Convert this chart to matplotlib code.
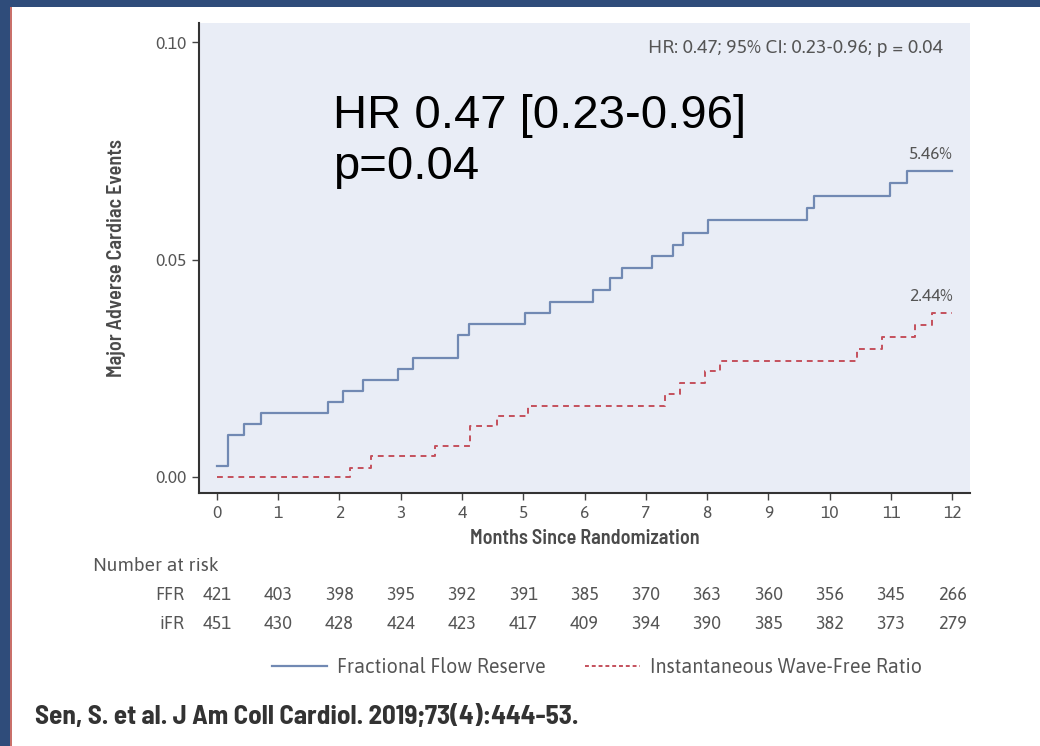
import matplotlib
matplotlib.use("Agg")
import matplotlib.pyplot as plt
from matplotlib.lines import Line2D
from matplotlib.patches import Rectangle
from matplotlib.transforms import blended_transform_factory

# Kaplan-Meier style cumulative event curves
ffr_months = [0, 0.18, 0.44, 0.72, 1.81, 2.06, 2.39, 2.95, 3.20, 3.94, 4.12, 5.03,
              5.44, 6.14, 6.42, 6.61, 7.10, 7.45, 7.60, 8.02, 9.63, 9.74, 10.99,
              11.26, 12.0]
ffr_events = [0.0024, 0.0097, 0.0122, 0.0146, 0.0173, 0.0198, 0.0223, 0.0248,
              0.0274, 0.0327, 0.0352, 0.0377, 0.0403, 0.0430, 0.0457, 0.0480,
              0.0507, 0.0534, 0.0560, 0.0591, 0.0618, 0.0645, 0.0675, 0.0704,
              0.0704]

ifr_months = [0, 2.17, 2.52, 3.56, 4.13, 4.57, 5.08, 7.31, 7.56, 7.97, 8.21,
              10.44, 10.85, 11.40, 11.67, 12.0]
ifr_events = [0.0, 0.0021, 0.0047, 0.0070, 0.0117, 0.0140, 0.0163, 0.0191,
              0.0217, 0.0244, 0.0267, 0.0294, 0.0322, 0.0350, 0.0378, 0.0378]

risk_months = list(range(13))
ffr_at_risk = [421, 403, 398, 395, 392, 391, 385, 370, 363, 360, 356, 345, 266]
ifr_at_risk = [451, 430, 428, 424, 423, 417, 409, 394, 390, 385, 382, 373, 279]

y_ticks = [0.00, 0.05, 0.10]
y_ticklabels = ["0.00", "0.05", "0.10"]

FFR_COLOR = "#7189b3"
IFR_COLOR = "#c4505c"
GRAY = "#555555"
FONT = ["Asap", "DejaVu Sans"]
BOLD_FONT = ["Barlow Semi Condensed", "DejaVu Sans"]

fig = plt.figure(figsize=(10.4, 7.46), dpi=100)
fig.patch.set_facecolor("white")

# dark blue slide frame on top and left edges
fig.patches.append(Rectangle((0, 1 - 7 / 746), 1, 7 / 746, transform=fig.transFigure,
                             facecolor="#2f4c7a", edgecolor="none", zorder=0))
fig.patches.append(Rectangle((0, 0), 10 / 1040, 1, transform=fig.transFigure,
                             facecolor="#2f4c7a", edgecolor="none", zorder=0))
fig.patches.append(Rectangle((10 / 1040, 0), 1.5 / 1040, 1 - 7 / 746,
                             transform=fig.transFigure, facecolor="#c9706a",
                             edgecolor="none", zorder=0))

ax = fig.add_axes([199 / 1040, 253 / 746, 771 / 1040, 470 / 746])
ax.set_facecolor("#e9edf6")

ax.step(ffr_months, ffr_events, where="post", color=FFR_COLOR, lw=1.6)
ax.step(ifr_months, ifr_events, where="post", color=IFR_COLOR, lw=1.4,
        linestyle=(0, (3, 2.5)))

ax.set_xlim(-0.29, 12.29)
ax.set_ylim(-0.0037, 0.1044)
ax.set_xticks(risk_months)
ax.set_yticks(y_ticks)
ax.set_yticklabels(y_ticklabels)
for lab in ax.get_xticklabels() + ax.get_yticklabels():
    lab.set_family(FONT)
    lab.set_fontsize(12.5)
    lab.set_color(GRAY)
ax.tick_params(axis="both", direction="out", length=5, width=1, color="#444444", pad=4)

for side in ("top", "right"):
    ax.spines[side].set_visible(False)
for side in ("left", "bottom"):
    ax.spines[side].set_color("#333333")
    ax.spines[side].set_linewidth(1.5)

ax.set_xlabel("Months Since Randomization", family=BOLD_FONT, fontsize=14.5,
              fontweight="semibold", color="#4a4a4a", labelpad=5)
ax.set_ylabel("Major Adverse Cardiac Events", family=BOLD_FONT, fontsize=14.5,
              fontweight="semibold", color="#4a4a4a", labelpad=21)

ax.text(0.965, 0.946, "HR: 0.47; 95% CI: 0.23-0.96; p = 0.04", transform=ax.transAxes,
        ha="right", va="center", family=FONT, fontsize=14, color=GRAY)
ax.text(12.0, ffr_events[-1] + 0.0017, "5.46%", ha="right", va="bottom",
        family=FONT, fontsize=12.5, color=GRAY)
ax.text(12.0, ifr_events[-1] + 0.0017, "2.44%", ha="right", va="bottom",
        family=FONT, fontsize=12.5, color=GRAY)

ax.text(0.174, 0.85, "HR 0.47 [0.23-0.96]\np=0.04", transform=ax.transAxes,
        ha="left", va="top", family="Liberation Sans", fontsize=34,
        color="black", linespacing=1.22)

# number at risk table
tr = blended_transform_factory(ax.transData, fig.transFigure)
fig.text(93 / 1040, 1 - 566 / 746, "Number at risk", ha="left", va="center",
         family=FONT, fontsize=13.8, color=GRAY)
for label, counts, ypix in (("FFR", ffr_at_risk, 595), ("iFR", ifr_at_risk, 624)):
    fig.text(184 / 1040, 1 - ypix / 746, label, ha="right", va="center",
             family=FONT, fontsize=13, color=GRAY)
    for m, n in zip(risk_months, counts):
        ax.text(m, 1 - ypix / 746, str(n), transform=tr, ha="center", va="center",
                family=FONT, fontsize=13, color=GRAY, clip_on=False)

handles = [Line2D([], [], color=FFR_COLOR, lw=1.6),
           Line2D([], [], color=IFR_COLOR, lw=1.4, linestyle=(0, (2, 1.5)))]
leg = fig.legend(handles, ["Fractional Flow Reserve", "Instantaneous Wave-Free Ratio"],
                 loc="center", bbox_to_anchor=(597 / 1040, 1 - 667 / 746), ncol=2,
                 frameon=False, handlelength=2.8, handletextpad=0.5,
                 columnspacing=2.0, prop={"family": FONT, "size": 14.2})
for t in leg.get_texts():
    t.set_color(GRAY)

fig.text(35 / 1040, 1 - 717 / 746, "Sen, S. et al. J Am Coll Cardiol. 2019;73(4):444-53.",
         ha="left", va="center", family=BOLD_FONT, fontsize=19.5, fontweight="bold",
         color="#333333")

fig.savefig("out.png", dpi=100)
